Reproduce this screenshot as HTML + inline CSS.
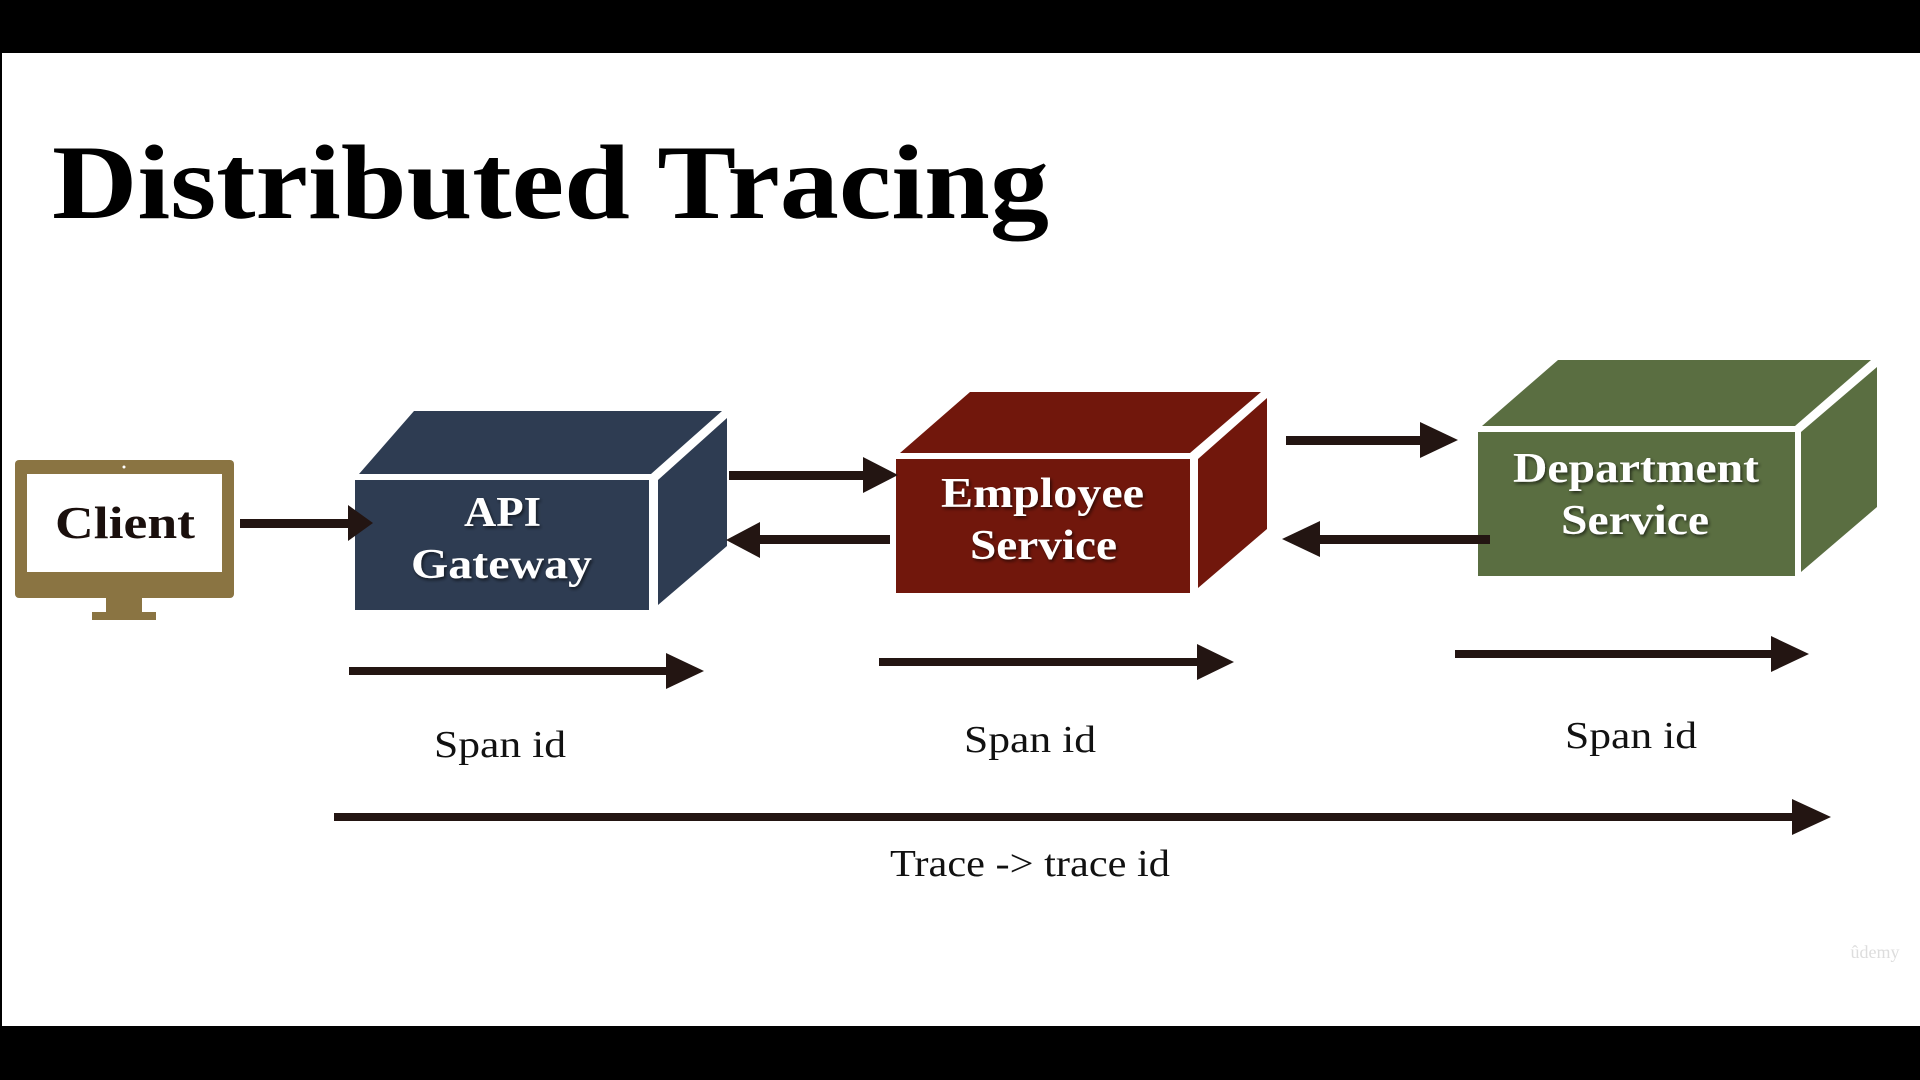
<!DOCTYPE html>
<html><head><meta charset="utf-8"><style>
html,body{margin:0;padding:0;background:#000;}
svg{display:block;}
text{font-family:"Liberation Serif",serif;}
</style></head><body>
<svg width="1920" height="1080" viewBox="0 0 1920 1080" xmlns="http://www.w3.org/2000/svg">
<defs>
<filter id="sh" x="-20%" y="-20%" width="140%" height="140%"><feDropShadow dx="1.5" dy="2" stdDeviation="1.5" flood-color="#000" flood-opacity="0.6"/></filter>
</defs>
<rect x="0" y="0" width="1920" height="1080" fill="#000"/>
<rect x="2" y="53" width="1918" height="973" fill="#fff"/>
<text x="52" y="218" font-size="106" font-weight="bold" fill="#000" textLength="997" lengthAdjust="spacingAndGlyphs">Distributed Tracing</text>

<!-- Client monitor -->
<rect x="15" y="460" width="219" height="138" rx="4" fill="#8a7442"/>
<rect x="27" y="474" width="195" height="98" fill="#fff"/>
<circle cx="124" cy="467" r="1.5" fill="#fff"/>
<rect x="106" y="598" width="36" height="14" fill="#8a7442"/>
<rect x="92" y="612" width="64" height="8" fill="#8a7442"/>
<text x="55" y="538" font-size="46" font-weight="bold" fill="#1a0f0c" textLength="140" lengthAdjust="spacingAndGlyphs">Client</text>

<!-- API Gateway -->
<g fill="#2e3c52">
<polygon points="359,474 414,411 722,411 651,474"/>
<polygon points="658,480 727,418 727,546 658,605"/>
<rect x="355" y="480" width="294" height="130"/>
</g>
<g fill="#fff" font-size="42" font-weight="bold" filter="url(#sh)">
<text x="464" y="526" textLength="77" lengthAdjust="spacingAndGlyphs">API</text>
<text x="411" y="578" textLength="181" lengthAdjust="spacingAndGlyphs">Gateway</text>
</g>

<!-- Employee -->
<g fill="#71170c">
<polygon points="900,453 970,392 1261,392 1190,453"/>
<polygon points="1198,459 1267,398 1267,529 1198,588"/>
<rect x="896" y="459" width="294" height="134"/>
</g>
<g fill="#fff" font-size="42" font-weight="bold" filter="url(#sh)">
<text x="941" y="507" textLength="203" lengthAdjust="spacingAndGlyphs">Employee</text>
<text x="970" y="559" textLength="147" lengthAdjust="spacingAndGlyphs">Service</text>
</g>

<!-- Department -->
<g fill="#5a6e41">
<polygon points="1482,426 1558,360 1871,360 1795,426"/>
<polygon points="1801,432 1877,367 1877,507 1801,572"/>
<rect x="1478" y="432" width="317" height="144"/>
</g>
<g fill="#fff" font-size="42" font-weight="bold" filter="url(#sh)">
<text x="1513" y="482" textLength="246" lengthAdjust="spacingAndGlyphs">Department</text>
<text x="1561" y="534" textLength="148" lengthAdjust="spacingAndGlyphs">Service</text>
</g>

<!-- Arrows -->
<g fill="#231512">
<rect x="240" y="519" width="112" height="9"/><polygon points="348,505 373,523 348,541"/>
<rect x="729" y="471" width="138" height="9"/><polygon points="863,457 898,475 863,493"/>
<rect x="752" y="535" width="138" height="9"/><polygon points="760,522 726,540 760,558"/>
<rect x="1286" y="436" width="136" height="9"/><polygon points="1420,422 1458,440 1420,458"/>
<rect x="1318" y="535" width="172" height="9"/><polygon points="1320,521 1282,539 1320,557"/>
<rect x="349" y="667" width="320" height="8"/><polygon points="666,653 704,671 666,689"/>
<rect x="879" y="658" width="321" height="8"/><polygon points="1197,644 1234,662 1197,680"/>
<rect x="1455" y="650" width="319" height="8"/><polygon points="1771,636 1809,654 1771,672"/>
<rect x="334" y="813" width="1460" height="8"/><polygon points="1792,799 1831,817 1792,835"/>
</g>
<g fill="#111" font-size="38">
<text x="434" y="757" textLength="132" lengthAdjust="spacingAndGlyphs">Span id</text>
<text x="964" y="752" textLength="132" lengthAdjust="spacingAndGlyphs">Span id</text>
<text x="1565" y="748" textLength="132" lengthAdjust="spacingAndGlyphs">Span id</text>
<text x="890" y="876" textLength="280" lengthAdjust="spacingAndGlyphs">Trace -&gt; trace id</text>
</g>
<text x="1875" y="958" font-size="18" fill="#ddd" text-anchor="middle" font-family="Liberation Sans, sans-serif">ûdemy</text>
</svg>
</body></html>
